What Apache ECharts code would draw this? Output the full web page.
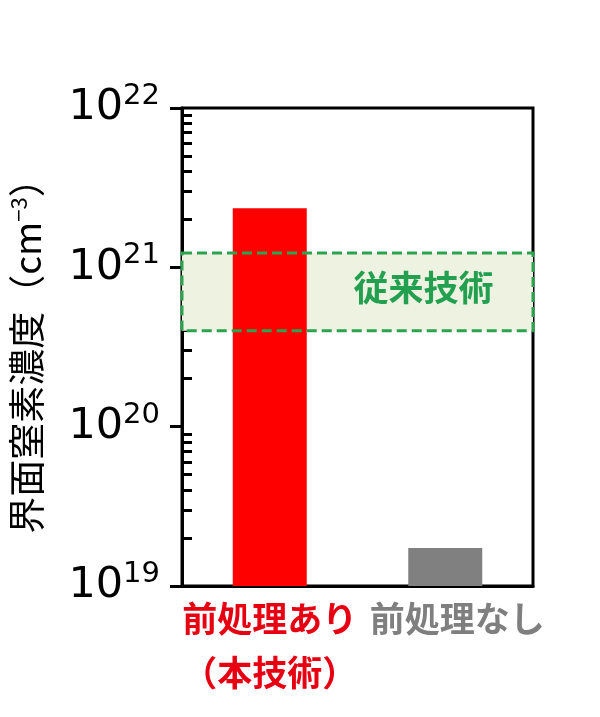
<!DOCTYPE html>
<html>
<head>
<meta charset="utf-8">
<script src="https://cdn.jsdelivr.net/npm/echarts@6/dist/echarts.min.js"></script>
<style>
  html, body { margin: 0; padding: 0; background: #fff; }
  #main { width: 600px; height: 717px; }
</style>
</head>
<body>
<div id="main"></div>
<script>
// データ
const categories = ['前処理あり\n（本技術）', '前処理なし']
const concentration = [2.35e21, 1.73e19]
const barColors = ['#ff0000', '#808080']
const labelColors = ['#e60012', '#7f7f7f']
const conventionalRange = [4.0e20, 1.23e21]
const conventionalName = '従来技術'
const yMin = 1e19
const yMax = 1e22

// 対数目盛の補助目盛 (2〜9 × 10^n)
const minorTicks = []
for (let e = 19; e < 22; e++) {
  for (let m = 2; m <= 9; m++) minorTicks.push(m * Math.pow(10, e))
}

const jp = 'Noto Sans CJK JP'
const main = echarts.init(document.getElementById('main'))

const areaData = [[
  { name: conventionalName, yAxis: conventionalRange[1] },
  { yAxis: conventionalRange[0] }
]]

const options = {
  backgroundColor: '#ffffff',
  animation: false,
  grid: {
    left: 182, right: 67, top: 108, bottom: 131,
    show: true,
    borderColor: '#000',
    borderWidth: 3,
    backgroundColor: 'transparent'
  },
  xAxis: {
    type: 'category',
    data: [
      { value: categories[0], textStyle: { color: labelColors[0] } },
      { value: categories[1], textStyle: { color: labelColors[1], padding: [0, 0, 0, 24] } }
    ],
    axisLine: { lineStyle: { color: '#000', width: 3 } },
    axisTick: { show: false },
    axisLabel: {
      margin: 6,
      fontSize: 35,
      lineHeight: 54,
      fontWeight: 'bold',
      fontFamily: jp,
      interval: 0
    }
  },
  yAxis: [
    {
      type: 'log',
      position: 'left',
      min: yMin,
      max: yMax,
      logBase: 10,
      name: '界面窒素濃度（cm{s|−3}）',
      nameLocation: 'middle',
      nameGap: 137,
      nameTextStyle: {
        fontSize: 37,
        fontFamily: jp,
        color: '#000',
        rich: { s: { fontSize: 22, verticalAlign: 'top', fontFamily: jp, color: '#000' } }
      },
      axisLine: { show: true, lineStyle: { color: '#000', width: 3 } },
      axisTick: { show: true, inside: false, length: 12, lineStyle: { color: '#000', width: 3 } },
      splitLine: { show: false },
      axisLabel: {
        margin: 22,
        showMinLabel: true,
        showMaxLabel: true,
        formatter: v => '{b|10}{s|' + Math.round(Math.log10(v)) + '}',
        rich: {
          b: { fontSize: 43, fontFamily: 'DejaVu Sans', color: '#000', lineHeight: 52 },
          s: { fontSize: 29, fontFamily: 'DejaVu Sans', color: '#000', lineHeight: 20, verticalAlign: 'top' }
        }
      }
    },
    {
      // 補助目盛用
      type: 'log',
      position: 'left',
      min: yMin,
      max: yMax,
      logBase: 10,
      axisLine: { show: false },
      axisLabel: { show: false },
      splitLine: { show: false },
      axisTick: {
        show: true,
        inside: true,
        length: 10,
        customValues: minorTicks,
        lineStyle: { color: '#000', width: 3 }
      }
    }
  ],
  series: [
    {
      type: 'bar',
      barWidth: 74,
      clip: true,
      data: concentration.map((v, i) => ({ value: v, itemStyle: { color: barColors[i] } })),
      // 従来技術の範囲（塗り、棒の下）
      markArea: {
        silent: true,
        z: 1,
        itemStyle: { color: '#eef2e0', borderWidth: 0 },
        label: { show: false },
        data: areaData
      }
    },
    {
      // 従来技術の枠線と文字（棒の上）
      type: 'line',
      data: [],
      zlevel: 1,
      markArea: {
        silent: true,
        zlevel: 1,
        z: 5,
        itemStyle: {
          color: 'rgba(0,0,0,0)',
          borderColor: '#2ba34f',
          borderWidth: 3,
          borderType: [10, 5]
        },
        label: {
          show: true,
          position: 'inside',
          offset: [66, -4],
          color: '#22a050',
          fontSize: 35,
          fontWeight: 'bold',
          fontFamily: jp
        },
        data: areaData
      }
    }
  ]
}

main.setOption(options)
</script>
</body>
</html>
